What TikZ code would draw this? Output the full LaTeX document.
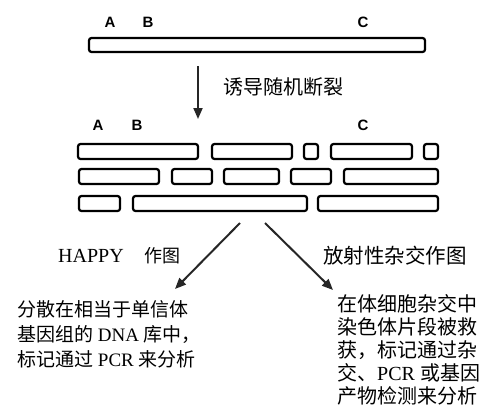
\documentclass[tikz,border=0pt]{standalone}
\usepackage{fontspec}
\setmainfont{Liberation Serif}
\newfontfamily\cjk{Noto Sans CJK SC}
\newfontfamily\labfont{Liberation Sans}
\usetikzlibrary{arrows.meta}
\tikzset{
  frag/.style={draw=black, line width=2.2pt, rounded corners=2.5pt},
  arr/.style={draw=black!85, line width=2pt, -{Triangle[length=11pt,width=9pt]}},
  letter/.style={anchor=base, inner sep=0pt, font=\labfont\bfseries\fontsize{15}{17}\selectfont},
  ltxt/.style={anchor=base west, inner sep=0pt, font=\fontsize{19}{22}\selectfont},
  rtxt/.style={anchor=base west, inner sep=0pt, font=\fontsize{20}{23}\selectfont},
}
\begin{document}
\begin{tikzpicture}[x=1pt,y=-1pt]
\useasboundingbox (0,0) rectangle (482,407);
% top chromosome
\node[letter] (a1) at (110,27) {A};
\node[letter] (b1) at (148,27) {B};
\node[letter] (c1) at (363,27) {C};
\draw[frag] (89,38) rectangle (425,52);
% break arrow
\coordinate (v0) at (198,66);
\coordinate (v1) at (198,119);
\draw[arr] (v0) -- (v1);
\node[rtxt] (brk) at (223,94) {\cjk 诱导随机断裂};
% fragments
\node[letter] (a2) at (98,130) {A};
\node[letter] (b2) at (137,130) {B};
\node[letter] (c2) at (363,130) {C};
\draw[frag] (78,144) rectangle (198,159);
\draw[frag] (212,144) rectangle (292,159);
\draw[frag] (304,144) rectangle (318,159);
\draw[frag] (331,144) rectangle (412,159);
\draw[frag] (424,144) rectangle (438,159);
\draw[frag] (79,169) rectangle (159,184);
\draw[frag] (172,169) rectangle (212,184);
\draw[frag] (224,169) rectangle (279,184);
\draw[frag] (291,169) rectangle (331,184);
\draw[frag] (344,169) rectangle (438,184);
\draw[frag] (79,196) rectangle (120,211);
\draw[frag] (133,196) rectangle (307,211);
\draw[frag] (318,196) rectangle (438,211);
% branch arrows
\coordinate (l0) at (240,223);
\coordinate (l1) at (175,289);
\coordinate (r0) at (265,223);
\coordinate (r1) at (333,290);
\draw[arr] (l0) -- (l1);
\draw[arr] (r0) -- (r1);
% labels
\node[anchor=base west, inner sep=0pt, font=\fontsize{20}{24}\selectfont] (happy) at (58,262) {HAPPY\hspace{21pt}{\cjk\fontsize{18}{22}\selectfont 作图}};
\node[anchor=base west, inner sep=0pt, font=\fontsize{20.5}{24}\selectfont] (rh) at (323,263) {\cjk 放射性杂交作图};
\node[ltxt] (lt1) at (17,316) {\cjk 分散在相当于单信体};
\node[ltxt] (lt2) at (17,341) {{\cjk 基因组的} DNA {\cjk 库中，}};
\node[ltxt] (lt3) at (17,366) {{\cjk 标记通过} PCR {\cjk 来分析}};
\node[rtxt] (rt1) at (337,311) {\cjk 在体细胞杂交中};
\node[rtxt] (rt2) at (337,334) {\cjk 染色体片段被救};
\node[rtxt] (rt3) at (337,357) {\cjk 获，标记通过杂};
\node[rtxt] (rt4) at (337,380) {{\cjk 交、}PCR {\cjk 或基因}};
\node[rtxt] (rt5) at (337,403) {\cjk 产物检测来分析};
\end{tikzpicture}
\end{document}
